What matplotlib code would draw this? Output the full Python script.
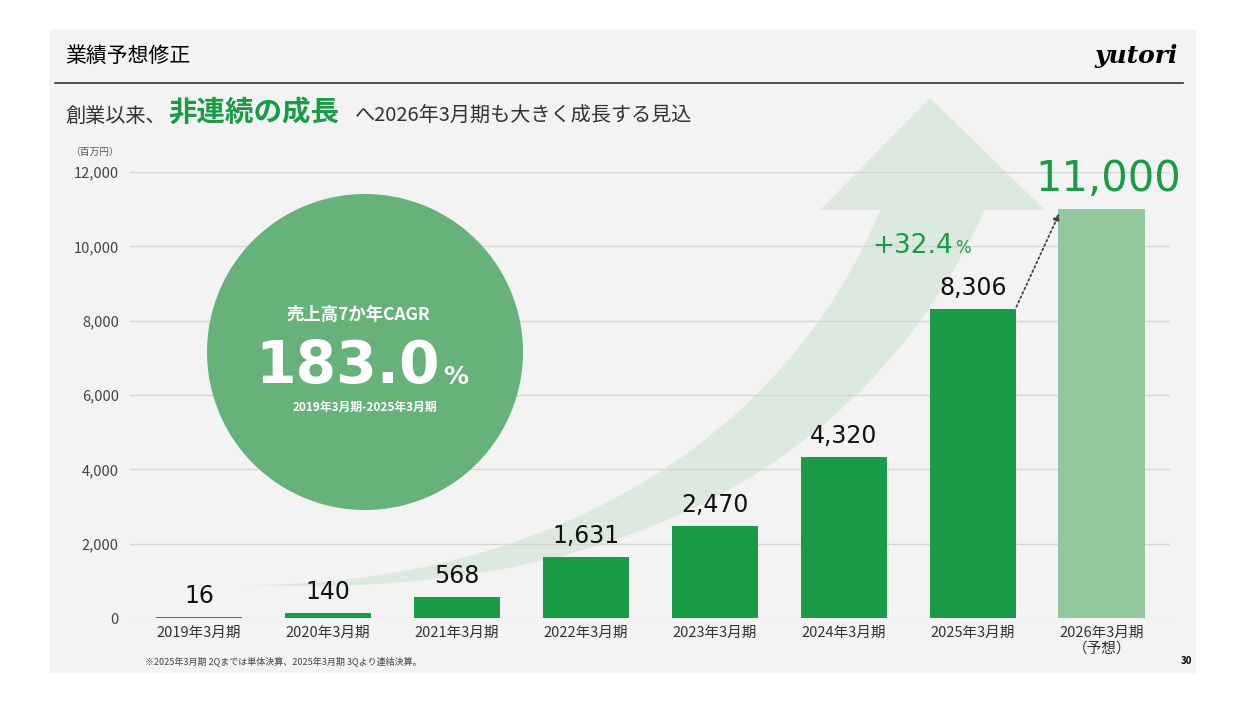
import matplotlib
matplotlib.use("Agg")
import matplotlib.pyplot as plt
from matplotlib.patches import Rectangle, Ellipse, PathPatch
from matplotlib.path import Path

plt.rcParams["font.family"] = "Noto Sans CJK JP"

categories = ["2019年3月期", "2020年3月期", "2021年3月期", "2022年3月期",
              "2023年3月期", "2024年3月期", "2025年3月期", "2026年3月期\n（予想）"]
values = [16, 140, 568, 1631, 2470, 4320, 8306, 11000]
value_labels = ["16", "140", "568", "1,631", "2,470", "4,320", "8,306", "11,000"]
yticks = [0, 2000, 4000, 6000, 8000, 10000, 12000]

W, H = 1248, 702
fig = plt.figure(figsize=(W/100, H/100), dpi=100)
fig.patch.set_facecolor("white")

def fx(x): return x / W
def fy(y): return 1 - y / H

fig.patches.append(Rectangle((fx(50), fy(672)), fx(1195)-fx(50), fy(30)-fy(672),
                             transform=fig.transFigure, color="#f3f3f3", zorder=0))
fig.add_artist(plt.Line2D([fx(55), fx(1183)], [fy(83), fy(83)], color="#333333", lw=1.2))
fig.text(fx(65), fy(56), "業績予想修正", fontsize=15, va="center", ha="left")
fig.text(fx(1178), fy(56), "yutori", fontsize=18, fontweight="bold", va="center", ha="right",
         family="DejaVu Serif", style="italic")
fig.text(fx(65), fy(116), "創業以来、", fontsize=14.5, va="center", ha="left", color="#333333")
fig.text(fx(168), fy(113), "非連続の成長", fontsize=20.5, va="center", ha="left", color="#1a9b48", fontweight="bold")
fig.text(fx(355), fy(116), "へ2026年3月期も大きく成長する見込", fontsize=14.5, va="center", ha="left", color="#333333")
fig.text(fx(70), fy(152), "（百万円）", fontsize=7, va="center", ha="left", color="#555555")
fig.text(fx(145), fy(661), "※2025年3月期 2Qまでは単体決算、2025年3月期 3Qより連結決算。", fontsize=6.5,
         va="center", ha="left", color="#444444")
fig.text(fx(1192), fy(661), "30", fontsize=7, va="center", ha="right", fontweight="bold")

pts = [(245, 585), (560, 585), (790, 430), (880, 210),
       (820, 210), (930, 98), (1045, 210), (985, 210),
       (860, 480), (600, 600), (245, 585)]
codes = [Path.MOVETO, Path.CURVE4, Path.CURVE4, Path.CURVE4,
         Path.LINETO, Path.LINETO, Path.LINETO, Path.LINETO,
         Path.CURVE4, Path.CURVE4, Path.CURVE4]
verts = [(fx(x), fy(y)) for x, y in pts]
fig.patches.append(PathPatch(Path(verts, codes), transform=fig.transFigure,
                             facecolor="#dbe9dd", edgecolor="none", zorder=1, alpha=0.95))

ax = fig.add_axes([fx(130), fy(618), fx(1170)-fx(130), fy(172)-fy(618)])
ax.set_facecolor("none")
ax.set_zorder(2)
x = list(range(len(values)))
colors = ["#1a9b48"] * 7 + ["#93c79d"]
ax.bar(x, values, width=0.67, color=colors, zorder=3)
ax.set_xlim(-0.535, 7.53)
ax.set_ylim(0, 12000)
ax.set_yticks(yticks)
ax.set_yticklabels([f"{v:,}" for v in yticks], fontsize=10.5, color="#444444")
ax.yaxis.grid(True, color="#d6d6d6", lw=1)
ax.set_axisbelow(True)
ax.set_xticks(x)
ax.set_xticklabels(categories, fontsize=10.5, color="#333333", linespacing=1.1, va="top")
ax.tick_params(length=0, pad=6)
ax.tick_params(axis="y", pad=8)
for s in ax.spines.values():
    s.set_visible(False)

num_font = "DejaVu Sans"
for i, (v, t) in enumerate(zip(values, value_labels)):
    if i < 7:
        ax.text(i, v + 250, t, ha="center", va="bottom", fontsize=17, color="#111111", zorder=4, family=num_font)
    else:
        ax.text(i + 0.05, v + 250, t, ha="center", va="bottom", fontsize=30, color="#1a9b48", zorder=4, family=num_font)
ax.text(5.85, 10000, "+32.4", ha="right", va="center", fontsize=19, color="#1a9b48", family=num_font)
ax.text(5.86, 9950, "%", ha="left", va="center", fontsize=12, color="#1a9b48", family=num_font)
ax.annotate("", xy=(6.68, 10950), xytext=(6.33, 8306),
            arrowprops=dict(arrowstyle="-|>", ls=":", color="#444444", lw=1.3))

fig.patches.append(Ellipse((fx(365), fy(352)), 316/W, 316/H, transform=fig.transFigure,
                           facecolor="#66b27a", edgecolor="none", zorder=3))
fig.text(fx(358), fy(315), "売上高7か年CAGR", fontsize=12.5, color="white", ha="center", va="center",
         fontweight="bold", zorder=5)
fig.text(fx(440), fy(366), "183.0", fontsize=42, color="white", ha="right", va="center",
         fontweight="bold", zorder=5, family=num_font)
fig.text(fx(443), fy(377), "%", fontsize=18, color="white", ha="left", va="center",
         fontweight="bold", zorder=5, family=num_font)
fig.text(fx(365), fy(407), "2019年3月期-2025年3月期", fontsize=8.5, color="white", ha="center",
         va="center", fontweight="bold", zorder=5)

fig.savefig("out.png", dpi=100, facecolor="white")
